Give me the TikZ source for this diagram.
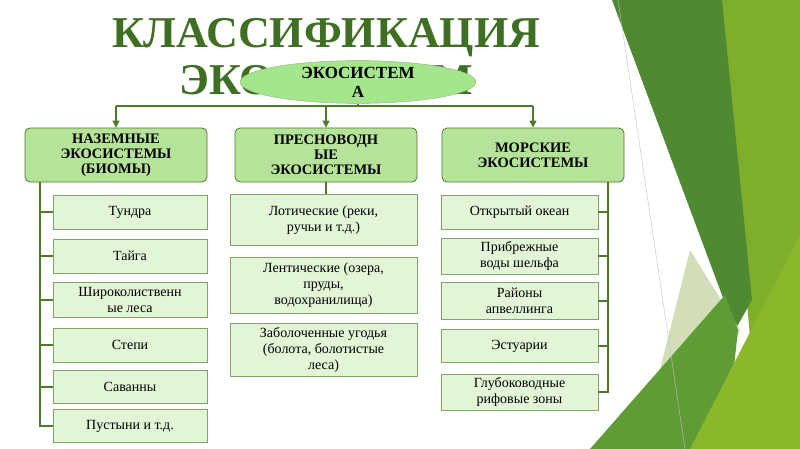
\documentclass[tikz,border=0pt]{standalone}
\usepackage{fontspec}
\setmainfont{Liberation Serif}
\usetikzlibrary{shapes.geometric,arrows.meta}
\definecolor{darkg}{HTML}{3F6F22}
\definecolor{headf}{HTML}{B6E39A}
\definecolor{itemf}{HTML}{E2F5D6}
\definecolor{linec}{HTML}{4E7A2C}
\tikzset{
    head/.style={draw=linec,fill=headf,rounded corners=5pt,line width=0.8pt,
        minimum width=182pt,minimum height=54pt,align=center,
        font=\bfseries\fontsize{14.5}{15}\selectfont,inner sep=1pt},
    item/.style={draw=linec!70,fill=itemf,line width=0.6pt,align=center,
        font=\fontsize{14}{16}\selectfont,inner sep=1pt},
    bar/.style={linec,line width=2.2pt},
    tick/.style={linec,line width=1.4pt}
}
\begin{document}
\begin{tikzpicture}[x=1pt,y=-1pt]
    \useasboundingbox (0,0) rectangle (800,449);
    % decoration on the right
    \fill[fill={rgb,255:red,127;green,174;blue,42}] (720,0) -- (800,0) -- (800,449) -- (760,449) -- cycle;
    \fill[fill={rgb,255:red,79;green,138;blue,51}] (612,0) -- (722,0) -- (752,300) -- (735,330) -- cycle;
    \fill[fill={rgb,255:red,200;green,214;blue,168},opacity=0.8] (640,449) -- (690,250) -- (740,330) -- (700,449) -- cycle;
    \fill[fill={rgb,255:red,95;green,156;blue,54}] (590,449) -- (725,295) -- (738,330) -- (725,449) -- cycle;
    \fill[fill={rgb,255:red,138;green,184;blue,42}] (690,449) -- (800,235) -- (800,449) -- cycle;
    \draw[gray!50,line width=0.4pt] (618,0) -- (685,449);
    % title
    \node[darkg,font=\bfseries\fontsize{44}{44}\selectfont] (title) at (326,38) {КЛАССИФИКАЦИЯ};
    \node[darkg,font=\bfseries\fontsize{44}{44}\selectfont] (title2) at (326,80) {ЭКОСИСТЕМ};
    \node[ellipse,draw=linec!60,fill=headf!90!green,minimum width=236pt,minimum height=38pt,
        font=\bfseries\fontsize{17}{19}\selectfont,align=center,inner sep=0pt] (eco) at (358,82) {ЭКОСИСТЕМ\\А};
    % headers
    \node[head] (land) at (116,155) {НАЗЕМНЫЕ\\ЭКОСИСТЕМЫ\\(БИОМЫ)};
    \node[head] (fresh) at (326,155) {ПРЕСНОВОДН\\ЫЕ\\ЭКОСИСТЕМЫ};
    \node[head] (sea) at (533,155) {МОРСКИЕ\\ЭКОСИСТЕМЫ};
    \coordinate (split) at (358,106);
    \draw[bar,line width=1.6pt] (eco.south) -- (split);
    \draw[bar,line width=1.6pt] (116,106) -- (533,106);
    \foreach \n/\x in {land/116,fresh/326,sea/533}
        \draw[tick,-{Triangle[length=7pt,width=7pt]}] (\x,106) -- (\n.north);
    % land items
    \foreach \n/\y/\h/\t in {l1/212/34/Тундра,l2/256/34/Тайга,l3/300/35/{Широколиственн\\ые леса},
        l4/345/34/Степи,l5/387/33/Саванны,l6/426/33/{Пустыни и т.д.}} {
        \node[item,minimum width=154pt,minimum height=\h pt] (\n) at (130,\y) {\t};
        \draw[tick] (40,\y) -- (\n.west);
    }
    \draw[bar] (40,182) -- (40,427);
    % fresh items
    \foreach \n/\y/\h/\t in {f1/220/51/{Лотические (реки,\\ручьи и т.д.)},
        f2/285/56/{Лентические (озера,\\пруды,\\водохранилища)},
        f3/350/53/{Заболоченные угодья\\(болота, болотистые\\леса)}}
        \node[item,minimum width=187pt,minimum height=\h pt] (\n) at (323.5,\y) {\t};
    \draw[tick] (fresh.south) -- (fresh.south |- f1.north);
    % sea items
    \foreach \n/\y/\h/\t in {s1/212/34/{Открытый океан},s2/256/36/{Прибрежные\\воды шельфа},
        s3/301/37/{Районы\\апвеллинга},s4/346/33/Эстуарии,s5/392/36/{Глубоководные\\рифовые зоны}} {
        \node[item,minimum width=157pt,minimum height=\h pt] (\n) at (519.5,\y) {\t};
        \draw[tick] (608,\y) -- (\n.east);
    }
    \draw[bar] (608,182) -- (608,393);
\end{tikzpicture}
\end{document}
